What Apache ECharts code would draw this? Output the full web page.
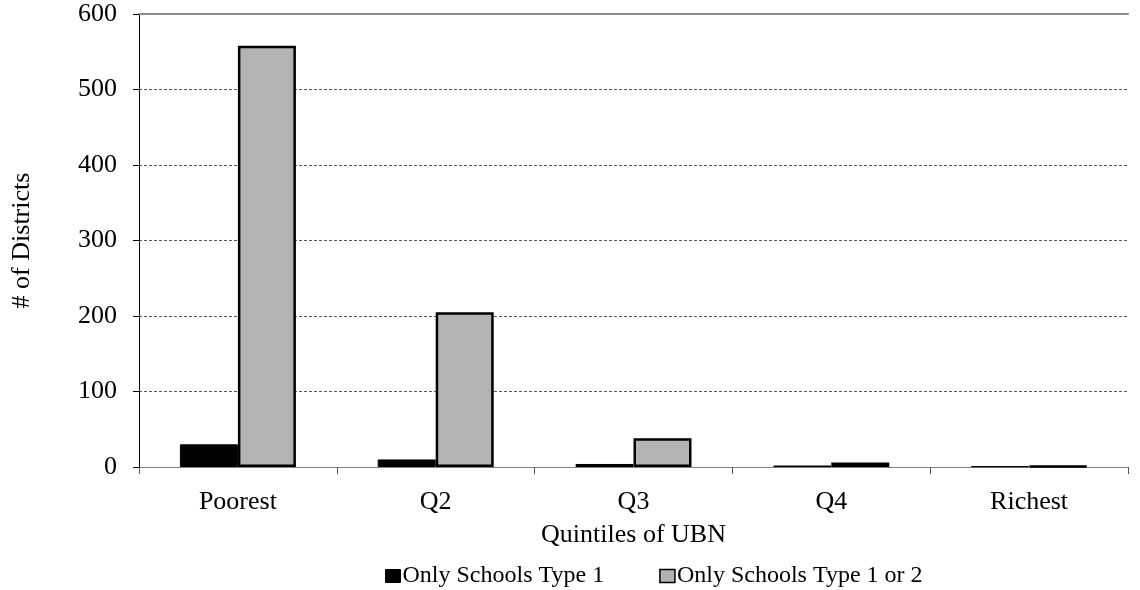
<!DOCTYPE html>
<html>
<head>
<meta charset="utf-8">
<script src="https://cdn.jsdelivr.net/npm/echarts@6/dist/echarts.min.js"></script>
<style>
  html, body { margin: 0; padding: 0; background: #fff; }
  #chart { width: 1140px; height: 590px; }
</style>
</head>
<body>
<div id="chart"></div>
<script>
// Districts by UBN quintile
const categories = ['Poorest', 'Q2', 'Q3', 'Q4', 'Richest'];
const onlyType1 = [30, 10, 4, 2, 1];
const onlyType1or2 = [558, 205, 38, 6, 1];
const yTicks = [0, 100, 200, 300, 400, 500, 600];

const FONT = '"Liberation Serif", "Times New Roman", serif';
const chart = echarts.init(document.getElementById('chart'), null, { renderer: 'canvas' });

chart.setOption({
  animation: false,
  textStyle: { fontFamily: FONT, color: '#000' },
  grid: { left: 139, right: 12, top: 14, bottom: 123, containLabel: false },
  legend: {
    bottom: 2,
    left: 385,
    padding: 0,
    itemWidth: 15,
    itemHeight: 13,
    itemGap: 55,
    icon: 'rect',
    textStyle: { fontFamily: FONT, fontSize: 24, color: '#000', padding: [0, 0, 0, -3] },
    data: [
      { name: 'Only Schools Type 1', itemStyle: { color: '#000', borderColor: '#000', borderWidth: 1 } },
      { name: 'Only Schools Type 1 or 2', itemStyle: { color: '#b3b3b3', borderColor: '#000', borderWidth: 1.5 } }
    ]
  },
  xAxis: [
    {
      type: 'category',
      data: categories,
      name: 'Quintiles of UBN',
      nameLocation: 'middle',
      nameGap: 55,
      nameTextStyle: { fontFamily: FONT, fontSize: 26, color: '#000' },
      axisLine: { lineStyle: { color: '#808080', width: 1 } },
      axisTick: { show: true, length: 7, lineStyle: { color: '#555' } },
      axisLabel: { fontFamily: FONT, fontSize: 26, color: '#000', margin: 22 },
      splitLine: { show: false }
    },
    {
      // solid frame line along the top of the plot
      type: 'category',
      data: categories,
      position: 'top',
      axisLine: { show: true, lineStyle: { color: '#8c8c8c', width: 2 } },
      axisTick: { show: false },
      axisLabel: { show: false },
      splitLine: { show: false }
    }
  ],
  yAxis: {
    type: 'value',
    min: yTicks[0],
    max: yTicks[yTicks.length - 1],
    interval: 100,
    name: '# of Districts',
    nameLocation: 'middle',
    nameGap: 104,
    nameRotate: 90,
    nameTextStyle: { fontFamily: FONT, fontSize: 26, color: '#000' },
    axisLine: { show: true, lineStyle: { color: '#000', width: 1 } },
    axisTick: { show: true, length: 6, lineStyle: { color: '#000' } },
    axisLabel: { fontFamily: FONT, fontSize: 26, color: '#000', margin: 22 },
    splitLine: { show: true, lineStyle: { color: '#555', type: [3, 2], width: 1 } }
  },
  series: [
    {
      name: 'Only Schools Type 1',
      type: 'bar',
      data: onlyType1,
      barWidth: 58,
      barGap: '0%',
      itemStyle: { color: '#000', borderColor: '#000', borderWidth: 1 }
    },
    {
      name: 'Only Schools Type 1 or 2',
      type: 'bar',
      data: onlyType1or2,
      barWidth: 58,
      itemStyle: { color: '#b3b3b3', borderColor: '#000', borderWidth: 2.5 }
    }
  ]
});
</script>
</body>
</html>
